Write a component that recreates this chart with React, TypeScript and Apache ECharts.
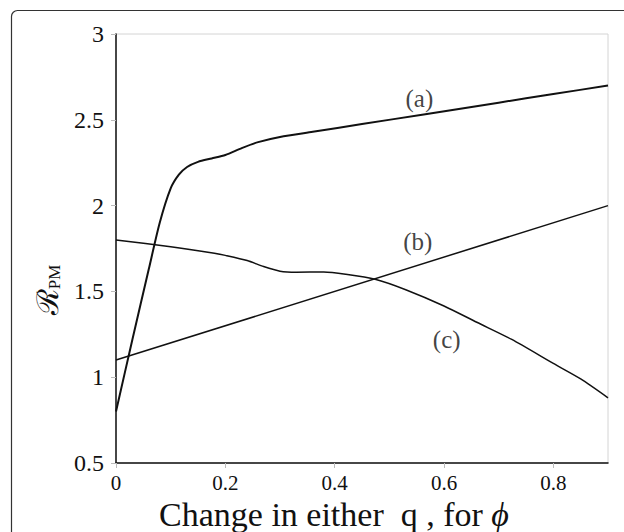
import React, { useEffect, useRef } from "react";
import * as echarts from "echarts";

const xTicks = [0, 0.2, 0.4, 0.6, 0.8];
const yTickLabels = ["0.5", "1", "1.5", "2", "2.5", "3"];

const curveA: [number, number][] = [
  [0, 0.8], [0.03, 1.22], [0.06, 1.63], [0.08, 1.9], [0.1, 2.1], [0.115, 2.18],
  [0.13, 2.225], [0.15, 2.255], [0.175, 2.275], [0.2, 2.295], [0.23, 2.335],
  [0.26, 2.37], [0.3, 2.4], [0.36, 2.43], [0.45, 2.475], [0.56, 2.53],
  [0.7, 2.6], [0.8, 2.65], [0.9, 2.7],
];
const curveB: [number, number][] = [
  [0, 1.1], [0.9, 2.0],
];
const curveC: [number, number][] = [
  [0, 1.8], [0.1, 1.76], [0.18, 1.722], [0.2, 1.71], [0.24, 1.68], [0.27, 1.645],
  [0.3, 1.618], [0.33, 1.612], [0.38, 1.613], [0.42, 1.6], [0.474, 1.571],
  [0.53, 1.51], [0.6, 1.415], [0.66, 1.32], [0.724, 1.22], [0.8, 1.08],
  [0.85, 0.99], [0.9, 0.88],
];
const curveLabels: [number, number, string][] = [
  [0.555, 2.625, "(a)"],
  [0.552, 1.79, "(b)"],
  [0.605, 1.217, "(c)"],
];

const SERIF = "'Liberation Serif', 'Times New Roman', serif";

export default function App() {
  const ref = useRef<HTMLDivElement>(null);
  useEffect(() => {
    if (!ref.current) return;
    const chart = echarts.init(ref.current, undefined, { renderer: "svg" });
    const lineSeries = (data: [number, number][], w: number) => ({
      type: "line",
      data,
      showSymbol: false,
      smooth: 0.25,
      lineStyle: { color: "#111", width: w },
      silent: true,
    });
    chart.setOption({
      animation: false,
      backgroundColor: "#fff",
      grid: {
        left: 116,
        right: 16,
        top: 34,
        bottom: 69,
        show: true,
        borderColor: "#d4d4d4",
        borderWidth: 1,
      },
      xAxis: {
        type: "value",
        min: 0,
        max: 0.9,
        interval: 0.2,
        axisLine: { show: true, lineStyle: { color: "#111", width: 1.5 } },
        axisTick: { show: true, length: 5, lineStyle: { color: "#bbb" } },
        splitLine: { show: false },
        axisLabel: {
          showMaxLabel: false,
          color: "#111",
          fontFamily: SERIF,
          fontSize: 21,
          margin: 9,
          formatter: (v: number) => {
            const i = xTicks.findIndex((t) => Math.abs(t - v) < 1e-9);
            return i >= 0 ? String(xTicks[i]) : "";
          },
        },
      },
      yAxis: {
        type: "value",
        min: 0.5,
        max: 3,
        interval: 0.5,
        axisLine: { show: true, lineStyle: { color: "#111", width: 1.5 } },
        axisTick: { show: true, length: 5, lineStyle: { color: "#bbb" } },
        splitLine: { show: false },
        axisLabel: {
          color: "#111",
          fontFamily: SERIF,
          fontSize: 24,
          margin: 12,
          formatter: (v: number) => {
            const i = Math.round((v - 0.5) / 0.5);
            return yTickLabels[i] ?? "";
          },
        },
      },
      series: [
        lineSeries(curveA, 2),
        lineSeries(curveB, 1.5),
        lineSeries(curveC, 1.5),
        {
          type: "scatter",
          data: curveLabels,
          symbolSize: 1,
          itemStyle: { color: "rgba(0,0,0,0)" },
          silent: true,
          label: {
            show: true,
            position: "inside",
            color: "#111",
            fontFamily: SERIF,
            fontSize: 25,
            formatter: (p: any) => p.value[2],
          },
        },
      ],
      graphic: [
        {
          type: "rect",
          shape: { x: 11.5, y: 10.5, width: 660, height: 580, r: 6 },
          style: { fill: "none", stroke: "#333", lineWidth: 1.2 },
          silent: true,
        },
        {
          type: "text",
          x: 334,
          y: 514,
          style: {
            text: "{t|Change in either  q , for }{p|ϕ}",
            align: "center",
            verticalAlign: "middle",
            rich: {
              t: { fontFamily: SERIF, fontSize: 34, fill: "#111" },
              p: { fontFamily: SERIF, fontSize: 34, fontStyle: "italic", fill: "#111" },
            },
          },
        },
        {
          type: "text",
          x: 47,
          y: 290,
          rotation: Math.PI / 2,
          style: {
            text: "{r|ℛ}{s|PM}",
            align: "center",
            verticalAlign: "middle",
            rich: {
              r: { fontFamily: "'DejaVu Serif', serif", fontSize: 30, fill: "#111" },
              s: {
                fontFamily: SERIF,
                fontSize: 17,
                fill: "#111",
                verticalAlign: "bottom",
                padding: [14, 0, 0, 0],
              },
            },
          },
        },
      ],
    });
    return () => chart.dispose();
  }, []);
  return (
    <div
      ref={ref}
      style={{ position: "absolute", left: 0, top: 0, width: 624, height: 532 }}
    />
  );
}
